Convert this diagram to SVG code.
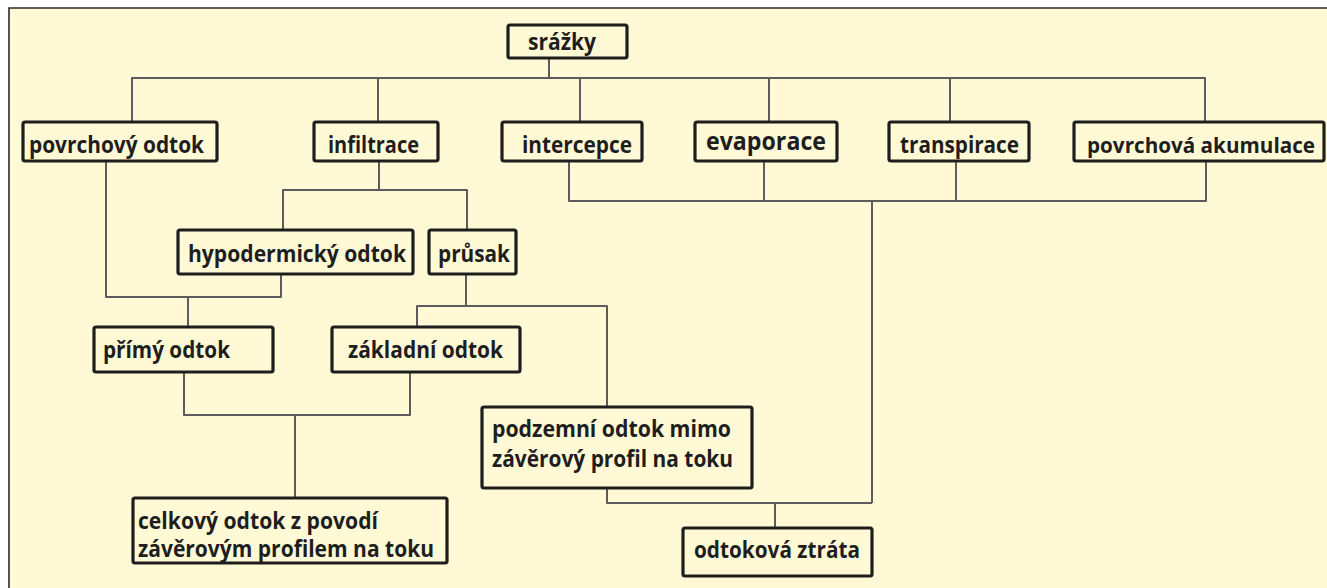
<svg xmlns="http://www.w3.org/2000/svg" width="1327" height="588" viewBox="0 0 1327 588">
<style>
.bg{fill:#FFF9D5}
.frame{fill:none;stroke:#2a2a2a;stroke-width:1.6}
.box{fill:#FFF9D5;stroke:#1e1e1e;stroke-width:3.2;rx:2}
.con{fill:none;stroke:#5c5c5c;stroke-width:2;stroke-linejoin:round}
text{font-family:"Open Sans","Noto Sans","DejaVu Sans",sans-serif;font-weight:700;font-size:22.5px;fill:#1e1e1e}
</style>
<rect x="0" y="0" width="1327" height="588" fill="#ffffff"/>
<rect class="bg" x="9" y="8" width="1318" height="580"/>
<path class="frame" d="M9,588 V8 H1327"/>
<g id="connectors">
<path class="con" d="M549,58 V78"/>
<path class="con" d="M132,122 V78 H1205 V122"/>
<path class="con" d="M378,78 V122"/>
<path class="con" d="M580,78 V122"/>
<path class="con" d="M769,78 V122"/>
<path class="con" d="M950,78 V122"/>
<path class="con" d="M569,161 V201 H1206 V161"/>
<path class="con" d="M764,161 V201"/>
<path class="con" d="M956,161 V201"/>
<path class="con" d="M872,201 V503"/>
<path class="con" d="M379,161 V190"/>
<path class="con" d="M283,230 V190 H467 V230"/>
<path class="con" d="M106,161 V297 H281 V274"/>
<path class="con" d="M188,297 V327"/>
<path class="con" d="M466,274 V306"/>
<path class="con" d="M417,327 V306 H607 V407"/>
<path class="con" d="M184,372 V415 H410 V372"/>
<path class="con" d="M295,415 V498"/>
<path class="con" d="M607,488 V503 H872"/>
<path class="con" d="M775,503 V528"/>
</g>
<g id="srazky"><rect class="box" x="508" y="25" width="119" height="33"/><text x="528" y="50" textLength="68" lengthAdjust="spacingAndGlyphs">srážky</text></g>
<g id="povrchovy-odtok"><rect class="box" x="23" y="122" width="194" height="39"/><text x="29" y="153" textLength="175" lengthAdjust="spacingAndGlyphs">povrchový odtok</text></g>
<g id="infiltrace"><rect class="box" x="314" y="122" width="124" height="39"/><text x="328" y="153" textLength="91" lengthAdjust="spacingAndGlyphs">infiltrace</text></g>
<g id="intercepce"><rect class="box" x="502" y="122" width="140" height="39"/><text x="522" y="153" textLength="110" lengthAdjust="spacingAndGlyphs">intercepce</text></g>
<g id="evaporace"><rect class="box" x="695" y="122" width="142" height="39"/><text x="706" y="149.5" style="font-size:24.5px" textLength="120" lengthAdjust="spacingAndGlyphs">evaporace</text></g>
<g id="transpirace"><rect class="box" x="889" y="122" width="140" height="39"/><text x="900" y="153" textLength="119" lengthAdjust="spacingAndGlyphs">transpirace</text></g>
<g id="povrchova-akumulace"><rect class="box" x="1074" y="122" width="250" height="39"/><text x="1087" y="153" style="font-size:21px" textLength="228" lengthAdjust="spacingAndGlyphs">povrchová akumulace</text></g>
<g id="hypodermicky-odtok"><rect class="box" x="178" y="230" width="235" height="44"/><text x="188" y="262" textLength="218" lengthAdjust="spacingAndGlyphs">hypodermický odtok</text></g>
<g id="prusak"><rect class="box" x="429" y="230" width="87" height="44"/><text x="438" y="262" textLength="72" lengthAdjust="spacingAndGlyphs">průsak</text></g>
<g id="primy-odtok"><rect class="box" x="94" y="327" width="179" height="45"/><text x="103" y="358" textLength="127" lengthAdjust="spacingAndGlyphs">přímý odtok</text></g>
<g id="zakladni-odtok"><rect class="box" x="332" y="327" width="188" height="45"/><text x="348" y="358" textLength="155" lengthAdjust="spacingAndGlyphs">základní odtok</text></g>
<g id="celkovy-odtok"><rect class="box" x="133" y="498" width="314" height="65"/><text x="138" y="529" textLength="240" lengthAdjust="spacingAndGlyphs">celkový odtok z povodí</text><text x="138" y="557" textLength="296" lengthAdjust="spacingAndGlyphs">závěrovým profilem na toku</text></g>
<g id="podzemni-odtok"><rect class="box" x="482" y="407" width="270" height="81"/><text x="492" y="437" textLength="239" lengthAdjust="spacingAndGlyphs">podzemní odtok mimo</text><text x="492" y="467" textLength="241" lengthAdjust="spacingAndGlyphs">závěrový profil na toku</text></g>
<g id="odtokova-ztrata"><rect class="box" x="683" y="528" width="189" height="48"/><text x="694" y="558" textLength="166" lengthAdjust="spacingAndGlyphs">odtoková ztráta</text></g>
</svg>
